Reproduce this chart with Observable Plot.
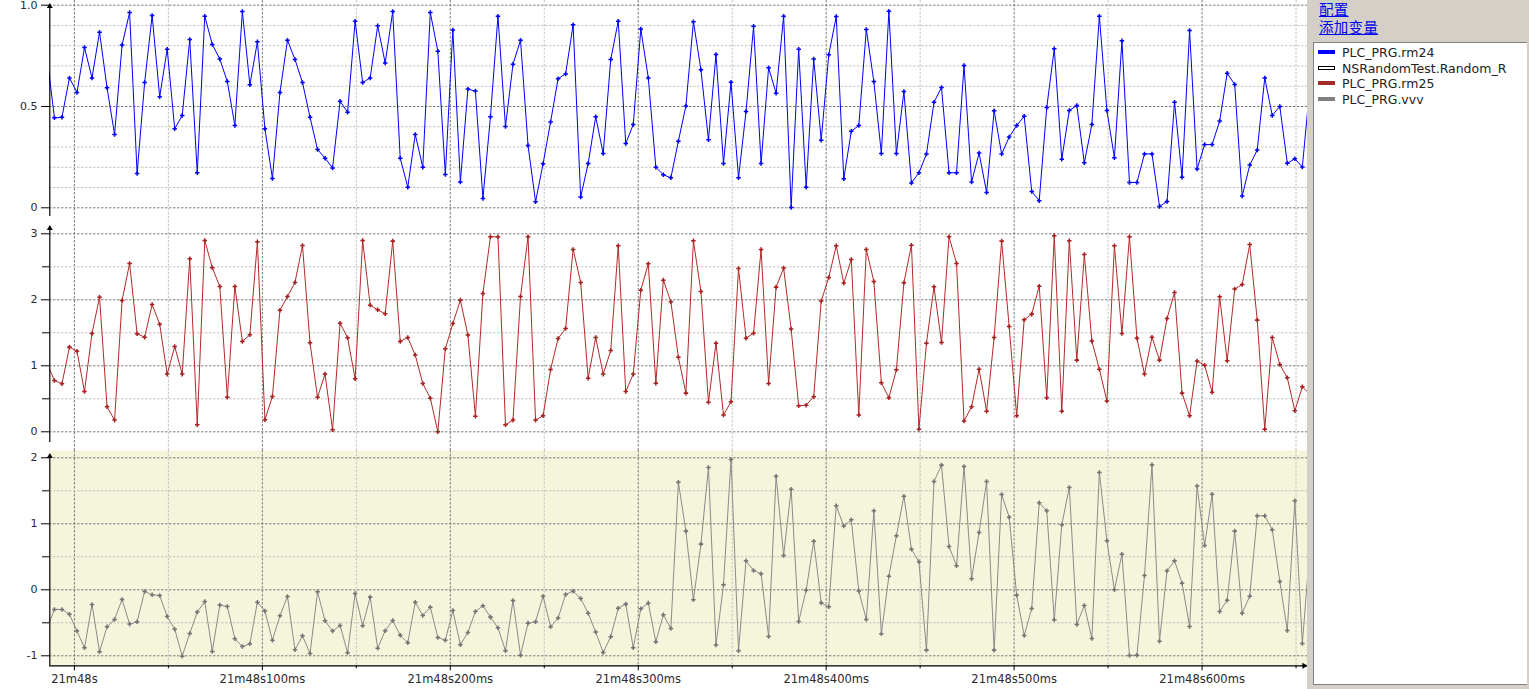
<!DOCTYPE html>
<html><head><meta charset="utf-8">
<script src="https://cdn.jsdelivr.net/npm/d3@7"></script>
<script src="https://cdn.jsdelivr.net/npm/@observablehq/plot@0.6"></script>
<style>
html,body{margin:0;padding:0;background:#fff}
body{width:1529px;height:689px;overflow:hidden;position:relative;font-family:"DejaVu Sans",sans-serif}
.pan{position:absolute;left:0}
#p1{top:0}#p2{top:220px}#p3{top:450px}
#side{position:absolute;left:1307px;top:0;width:222px;height:689px;background:#d4d0c8}
.lnk{position:absolute;left:12px;font-family:"Noto Sans CJK SC",sans-serif;font-size:14.5px;color:#0000ee;text-decoration:underline;line-height:16px;letter-spacing:0.3px}
#legend{position:absolute;left:6px;top:42px;width:214px;height:643px;background:#fff;border-top:1px solid #808080;border-left:1px solid #808080;border-bottom:1px solid #808080;box-sizing:border-box}
.item{position:absolute;left:0;height:15px;white-space:nowrap;font-family:"DejaVu Sans",sans-serif;font-size:12.5px;color:#222;line-height:15px}
.sw{position:absolute;left:4px;top:5px;width:17px;height:4px;box-sizing:border-box}
.lbl{position:absolute;left:28px;top:0}
</style></head>
<body>
<div id="p1" class="pan"></div>
<div id="p2" class="pan"></div>
<div id="p3" class="pan"></div>
<div id="side">
  <div class="lnk" style="top:1px">配置</div>
  <div class="lnk" style="top:19px">添加变量</div>
  <div id="legend"></div>
</div>
<script>
// ---- sampling: one value every 4 ms, first listed sample just left of the view ----
const T0 = -10.64, DT = 4;

// ---- series values ----
const rm24 = [0.75,
0.444,0.447,0.641,0.569,0.791,0.641,0.867,0.592,0.362,0.804,0.964,0.169,0.618,0.949,0.548,0.783,0.39,0.456,0.831,0.173,
0.946,0.806,0.734,0.623,0.406,0.969,0.607,0.819,0.39,0.145,0.569,0.827,0.732,0.618,0.447,0.288,0.245,0.197,0.526,0.472,
0.921,0.618,0.641,0.898,0.715,0.969,0.245,0.102,0.362,0.2,0.964,0.773,0.164,0.878,0.127,0.586,0.576,0.046,0.449,0.946,
0.401,0.709,0.827,0.308,0.03,0.217,0.424,0.637,0.661,0.903,0.053,0.219,0.449,0.268,0.732,0.921,0.317,0.411,0.882,0.641,
0.2,0.163,0.148,0.329,0.503,0.918,0.681,0.336,0.757,0.219,0.62,0.148,0.475,0.896,0.219,0.691,0.566,0.946,0.002,0.783,
0.102,0.734,0.334,0.755,0.944,0.143,0.378,0.406,0.88,0.623,0.268,0.97,0.268,0.574,0.123,0.173,0.265,0.521,0.594,0.173,
0.173,0.702,0.127,0.27,0.076,0.479,0.265,0.349,0.406,0.452,0.081,0.035,0.495,0.785,0.24,0.48,0.505,0.222,0.411,0.946,
0.48,0.247,0.824,0.125,0.125,0.266,0.266,0.007,0.031,0.521,0.151,0.875,0.192,0.312,0.312,0.428,0.664,0.609,0.058,0.211,
0.285,0.641,0.456,0.5,0.22,0.242,0.201,0.6];

const rm25 = [1.04,
0.778,0.727,1.283,1.222,0.611,1.49,2.04,0.379,0.177,1.99,2.55,1.485,1.434,1.929,1.631,0.874,1.293,0.874,2.621,0.106,
2.899,2.485,2.202,0.525,2.202,1.369,1.47,2.879,0.182,0.535,1.843,2.05,2.263,2.823,1.348,0.525,0.874,0.03,1.646,1.424,
0.803,2.899,1.919,1.848,1.788,2.889,1.369,1.429,1.162,0.732,0.51,0.0,1.258,1.641,1.995,1.465,0.237,2.096,2.955,2.955,
0.106,0.177,2.051,2.955,0.177,0.242,0.944,1.414,1.566,2.763,2.263,0.813,1.429,0.874,1.232,2.818,0.611,0.874,2.146,2.545,
0.737,2.298,1.97,1.131,0.586,2.894,2.126,0.449,1.343,0.253,0.455,2.475,1.419,1.495,2.763,0.732,2.192,2.48,1.556,0.394,
0.404,0.53,1.98,2.338,2.818,2.253,2.61,0.253,2.763,2.278,0.742,0.515,0.939,2.258,2.828,0.04,1.343,2.197,1.354,2.955,
2.551,0.162,0.379,0.949,0.313,1.429,2.889,1.596,0.242,1.697,1.783,2.207,0.515,2.97,0.313,2.894,1.086,2.687,1.374,0.949,
0.465,2.818,1.49,2.955,1.419,0.874,1.434,1.086,1.717,2.111,0.586,0.242,1.071,1.01,0.601,2.045,1.076,2.162,2.232,2.838,
1.692,0.04,1.429,1.02,0.818,0.318,0.682,0.57];

const vvv = [-0.59,
-0.298,-0.298,-0.369,-0.626,-0.879,-0.222,-0.939,-0.561,-0.449,-0.146,-0.52,-0.485,-0.025,-0.076,-0.086,-0.404,-0.596,-1.005,-0.662,-0.338,
-0.177,-0.934,-0.232,-0.253,-0.742,-0.859,-0.818,-0.187,-0.323,-0.763,-0.394,-0.101,-0.909,-0.697,-0.965,-0.03,-0.47,-0.626,-0.54,-0.955,
-0.056,-0.545,-0.111,-0.884,-0.621,-0.465,-0.69,-0.803,-0.187,-0.389,-0.263,-0.722,-0.763,-0.313,-0.833,-0.646,-0.328,-0.242,-0.414,-0.576,
-0.924,-0.162,-0.99,-0.505,-0.485,-0.096,-0.561,-0.429,-0.071,-0.02,-0.131,-0.354,-0.641,-0.949,-0.712,-0.278,-0.217,-0.879,-0.288,-0.202,
-0.788,-0.379,-0.586,1.631,0.889,-0.152,0.692,1.854,-0.838,0.076,1.975,-0.924,0.439,0.293,0.242,-0.707,1.722,0.52,1.525,-0.48,
-0.005,0.737,-0.197,-0.258,1.273,0.965,1.06,-0.02,-0.449,1.197,-0.667,0.207,0.818,1.419,0.616,0.424,-0.914,1.641,1.889,0.657,
0.364,1.869,0.167,0.869,1.641,-0.914,1.444,1.101,-0.081,-0.692,-0.283,1.318,1.197,-0.455,0.985,1.551,-0.525,-0.237,-0.737,1.778,
0.742,0.0,0.54,-0.995,-0.99,0.217,1.894,-0.778,0.288,0.439,0.101,-0.556,1.571,0.672,1.449,-0.328,-0.157,0.889,-0.354,-0.096,
1.121,1.121,0.909,0.126,-0.616,1.348,-0.813,0.63];

// ---- axes / ticks ----
const xMajorTicks = [0,100,200,300,400,500,600];
const xMinorTicks = [50,150,250,350,450,550,650];
const xTickLabels = ["21m48s","21m48s100ms","21m48s200ms","21m48s300ms","21m48s400ms","21m48s500ms","21m48s600ms"];

const rm24Ticks = [0,0.5,1], rm24TickLabels = ["0","0.5","1.0"];
const rm24MajorGrid = [0,0.5,1], rm24MinorGrid = [0.1,0.2,0.3,0.4,0.6,0.7,0.8,0.9];
const rm25Ticks = [0,1,2,3], rm25TickLabels = ["0","1","2","3"], rm25MinorTicks = [0.5,1.5,2.5];
const vvvTicks = [-1,0,1,2], vvvTickLabels = ["-1","0","1","2"], vvvMinorTicks = [-0.5,0.5,1.5];

const legendNames = ["PLC_PRG.rm24","NSRandomTest.Random_R","PLC_PRG.rm25","PLC_PRG.vvv"];
const legendColors = ["#0000ff","#ffffff","#a52a2a","#808080"];

// ---- layout ----
const X_DOMAIN = [-13.1, 656.1];
const X_RANGE = [49.3, 1307];
const rows = vals => vals.map((v, k) => ({t: T0 + DT * (k - 1), v}));
const pxToT = px => X_DOMAIN[0] + (px - X_RANGE[0]) * (X_DOMAIN[1] - X_DOMAIN[0]) / (X_RANGE[1] - X_RANGE[0]);

function trace(o) {
  const pxToV = px => o.yDomain[0] + (px - o.yRange[0]) * (o.yDomain[1] - o.yDomain[0]) / (o.yRange[1] - o.yRange[0]);
  const data = rows(o.values);
  const dash = "2.5,1.5";
  const marks = [];
  if (o.bg) marks.push(Plot.frame({fill: o.bg, stroke: "none"}));
  marks.push(
    Plot.ruleX(xMinorTicks, {stroke: "#c4c4c4", strokeDasharray: dash}),
    Plot.ruleX(xMajorTicks, {stroke: "#7c7c7c", strokeDasharray: dash}),
    Plot.ruleY(o.minorGrid, {stroke: "#c4c4c4", strokeDasharray: dash}),
    Plot.ruleY(o.majorGrid, {stroke: "#7c7c7c", strokeDasharray: dash}),
    Plot.line(data, {x: "t", y: "v", stroke: o.color, strokeWidth: 1, clip: true}),
    Plot.dot(data, {x: "t", y: "v", symbol: "cross", r: 1.9, fill: o.dotColor, stroke: "none", clip: true}),
    Plot.ruleX([X_DOMAIN[0]], {y1: pxToV(o.axisTop + 2), y2: pxToV(o.axisBottom), stroke: "#000", strokeWidth: 1.2}),
    Plot.dot([0], {x: () => X_DOMAIN[0], y: () => pxToV(o.axisTop + 3.4), symbol: "triangle", r: 2.2, fill: "#000", stroke: "none"}),
    Plot.axisY({ticks: o.ticks, tickFormat: d => o.tickLabels[o.ticks.indexOf(d)], tickSize: 8, tickPadding: 4,
      fontSize: 11, stroke: "#000", fill: "#2a2a2a", label: null, anchor: "left"})
  );
  if (o.minorTicks) marks.push(Plot.axisY({ticks: o.minorTicks, tickFormat: () => "", tickSize: 7, tickPadding: 0, stroke: "#000", label: null, anchor: "left"}));
  if (o.xAxis) {
    const yb = pxToV(o.height - o.marginBottom);
    marks.push(
      Plot.ruleY([yb], {stroke: "#000", strokeWidth: 1.2}),
      Plot.dot([0], {x: () => pxToT(X_RANGE[1] - 3.4), y: () => yb, symbol: "triangle", rotate: 90, r: 2.2, fill: "#000", stroke: "none"}),
      Plot.axisX({ticks: xMajorTicks, tickFormat: d => xTickLabels[xMajorTicks.indexOf(d)], tickSize: 5, tickPadding: 4.5,
        fontSize: 11.5, stroke: "#000", fill: "#2a2a2a", label: null, anchor: "bottom"}),
      Plot.axisX({ticks: xMinorTicks, tickFormat: () => "", tickSize: 3, tickPadding: 0, stroke: "#000", label: null, anchor: "bottom"})
    );
  }
  return Plot.plot({
    width: 1307, height: o.height,
    marginLeft: 49, marginRight: 0, marginTop: 0, marginBottom: o.marginBottom || 0,
    x: {domain: X_DOMAIN, range: X_RANGE, axis: o.xAxis ? undefined : null},
    y: {domain: o.yDomain, range: o.yRange},
    style: {background: "transparent", fontFamily: "DejaVu Sans, sans-serif", overflow: "visible"},
    marks
  });
}

document.getElementById("p1").append(trace({
  values: rm24, color: "#0000ff", dotColor: "#0000ff", height: 220,
  yDomain: [0, 1], yRange: [207.3, 4.7], axisTop: 2.5, axisBottom: 216,
  ticks: rm24Ticks, tickLabels: rm24TickLabels, majorGrid: rm24MajorGrid, minorGrid: rm24MinorGrid
}));
document.getElementById("p2").append(trace({
  values: rm25, color: "#b22a2a", dotColor: "#a82020", height: 230,
  yDomain: [0, 3], yRange: [211.3, 13.3], axisTop: 4.5, axisBottom: 222,
  ticks: rm25Ticks, tickLabels: rm25TickLabels, minorTicks: rm25MinorTicks, majorGrid: rm25Ticks, minorGrid: rm25MinorTicks
}));
document.getElementById("p3").append(trace({
  values: vvv, color: "#8a8a8a", dotColor: "#747474", height: 239, marginBottom: 23.7, bg: "#f5f5dc",
  yDomain: [-1, 2], yRange: [205.3, 7.3], axisTop: 2.5, axisBottom: 215.3,
  ticks: vvvTicks, tickLabels: vvvTickLabels, minorTicks: vvvMinorTicks, majorGrid: vvvTicks, minorGrid: vvvMinorTicks, xAxis: true
}));

// legend
const lg = document.getElementById("legend");
legendNames.forEach((name, i) => {
  const it = document.createElement("div");
  it.className = "item";
  it.style.top = (2 + i * 15.67) + "px";
  const sw = document.createElement("div");
  sw.className = "sw";
  sw.style.background = legendColors[i];
  sw.style.border = "1px solid " + (legendColors[i] === "#ffffff" ? "#000" : legendColors[i]);
  const tx = document.createElement("div");
  tx.className = "lbl";
  tx.textContent = name;
  it.append(sw, tx);
  lg.append(it);
});
</script>
</body></html>
